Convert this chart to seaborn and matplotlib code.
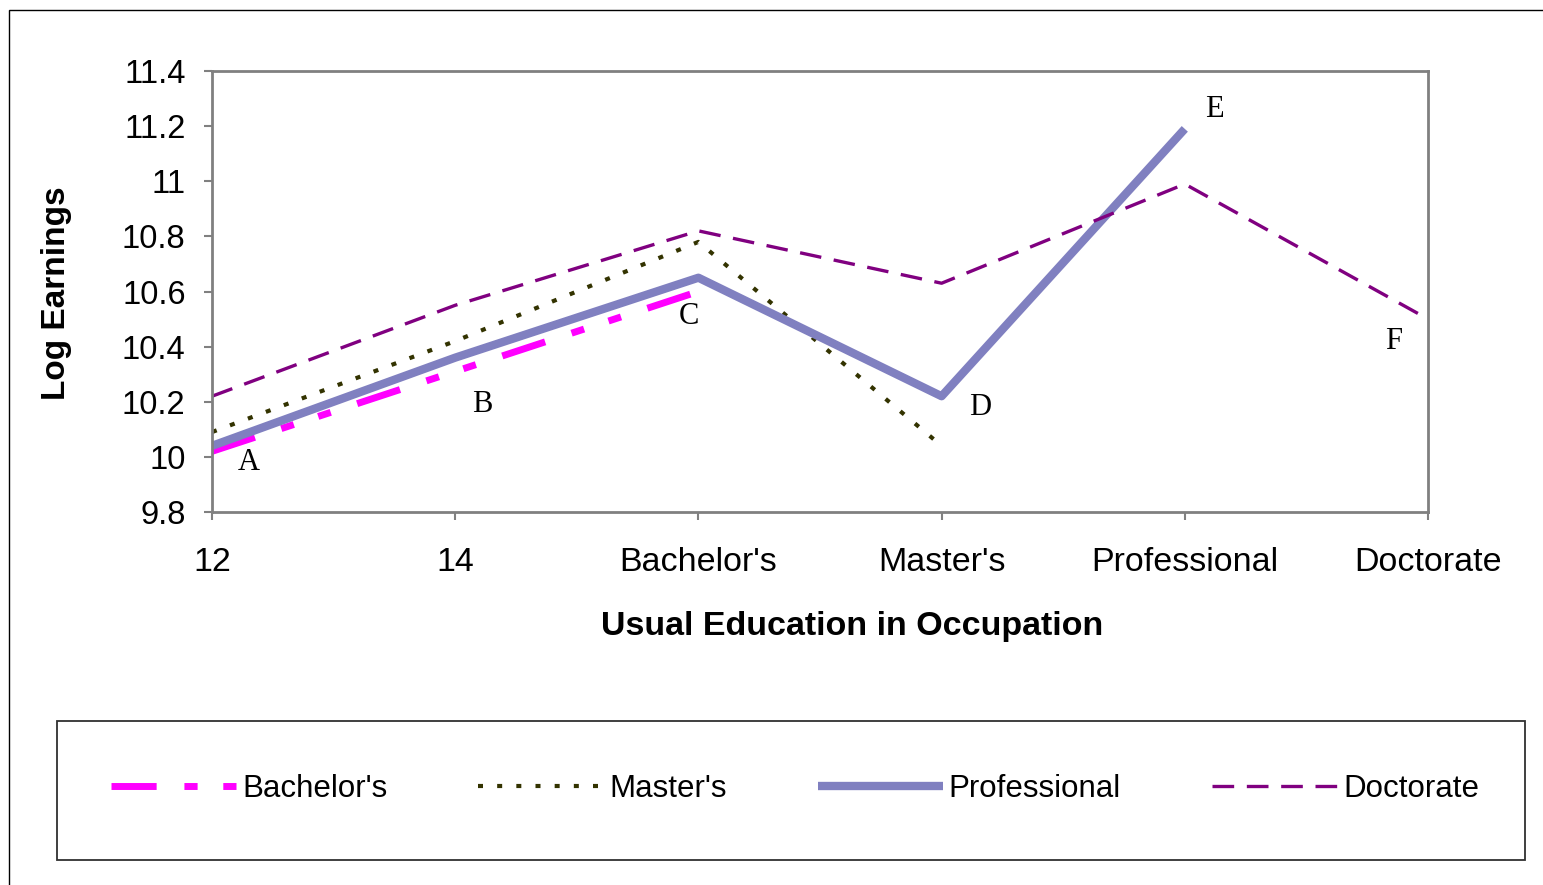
import numpy as np
import pandas as pd
import matplotlib
matplotlib.use("Agg")
import matplotlib.pyplot as plt
import seaborn as sns
from matplotlib.patches import Rectangle

# ---------------- data ----------------
categories = ["12", "14", "Bachelor's", "Master's", "Professional", "Doctorate"]
series_names = ["Bachelor's", "Master's", "Professional", "Doctorate"]
bachelors = [10.02, 10.31, 10.60]
masters = [10.09, 10.42, 10.78, 10.04]
professional = [10.04, 10.36, 10.65, 10.22, 11.19]
doctorate = [10.22, 10.55, 10.82, 10.63, 10.99, 10.50]
yticks = [9.8, 10.0, 10.2, 10.4, 10.6, 10.8, 11.0, 11.2, 11.4]
ytick_labels = ["9.8", "10", "10.2", "10.4", "10.6", "10.8", "11", "11.2", "11.4"]
point_labels = ["A", "B", "C", "D", "E", "F"]
label_x = [0.15, 1.11, 1.96, 3.16, 4.12, 4.86]
label_y = [9.98, 10.19, 10.51, 10.18, 11.26, 10.42]

series_values = [bachelors, masters, professional, doctorate]
rows = []
for name, vals in zip(series_names, series_values):
    for i, v in enumerate(vals):
        rows.append({"series": name, "pos": i, "value": v})
df = pd.DataFrame(rows)

colors = {"Bachelor's": "#FF00FF", "Master's": "#333300",
          "Professional": "#8080C0", "Doctorate": "#800080"}
widths = {"Bachelor's": 5.0, "Master's": 3.0, "Professional": 6.0, "Doctorate": 2.4}
dashes = {"Bachelor's": (6.5, 4.0, 1.9, 3.7, 1.9, 4.0),
          "Master's": (1.2, 3.4),
          "Professional": "",
          "Doctorate": (6.5, 3.8)}

sns.set_style("white")
plt.rcParams["font.family"] = ["Liberation Sans", "DejaVu Sans"]
plt.rcParams["text.color"] = "black"
plt.rcParams["xtick.labelcolor"] = "black"
plt.rcParams["ytick.labelcolor"] = "black"

W, H = 1543, 885
fig = plt.figure(figsize=(W / 100, H / 100), dpi=100)
ax = fig.add_axes([212 / W, 1 - 512 / H, 1216 / W, 441 / H])

sns.lineplot(data=df, x="pos", y="value", hue="series", style="series",
             size="series", hue_order=series_names, style_order=series_names,
             size_order=series_names, palette=colors, dashes=dashes,
             sizes=widths, legend=False, estimator=None, sort=False, ax=ax)

for ln in ax.lines:
    ln.set_dash_capstyle("butt")
    ln.set_solid_capstyle("butt")

ax.set_xlim(0, 5)
ax.set_ylim(9.8, 11.4)
ax.set_xticks(range(len(categories)))
ax.set_xticklabels(categories, fontsize=24.5, color="black")
ax.set_yticks(yticks)
ax.set_yticklabels(ytick_labels, fontsize=23.5, color="black")
ax.set_xlabel("")
ax.set_ylabel("")
ax.tick_params(axis="x", length=6, width=1.5, color="#808080", pad=19, direction="out", bottom=True)
ax.tick_params(axis="y", length=6, width=1.5, color="#808080", pad=13, direction="out", left=True)
for sp in ax.spines.values():
    sp.set_color("#808080")
    sp.set_linewidth(2)
    sp.set_visible(True)
ax.grid(False)

for t, x, y in zip(point_labels, label_x, label_y):
    ax.text(x, y, t, fontsize=22, family=["Liberation Serif", "DejaVu Serif"],
            ha="center", va="center", color="black")

fig.text(56 / W, 1 - 293 / H, "Log Earnings", rotation=90, fontsize=24,
         fontweight="bold", ha="center", va="center", color="black")
fig.text(852 / W, 1 - 627 / H, "Usual Education in Occupation", fontsize=24.5,
         fontweight="bold", ha="center", va="center", color="black")

# outer frame
fig.patches.append(Rectangle((9 / W, -0.05), 2.0, 1 - 10 / H + 0.05,
                             transform=fig.transFigure, fill=False,
                             ec="black", lw=1.0))
# legend frame
fig.patches.append(Rectangle((57 / W, 1 - 860 / H), 1468 / W, 139 / H,
                             transform=fig.transFigure, fill=False,
                             ec="#303030", lw=1.3))

leg = ax.legend(handles=list(ax.lines), labels=series_names, ncol=4,
                loc="center", bbox_to_anchor=(795 / W, 1 - 789 / H),
                bbox_transform=fig.transFigure, frameon=False,
                fontsize=22.5, handlelength=4.0, handletextpad=0.2,
                columnspacing=2.9, labelcolor="black")

fig.savefig("out.png", dpi=100)
